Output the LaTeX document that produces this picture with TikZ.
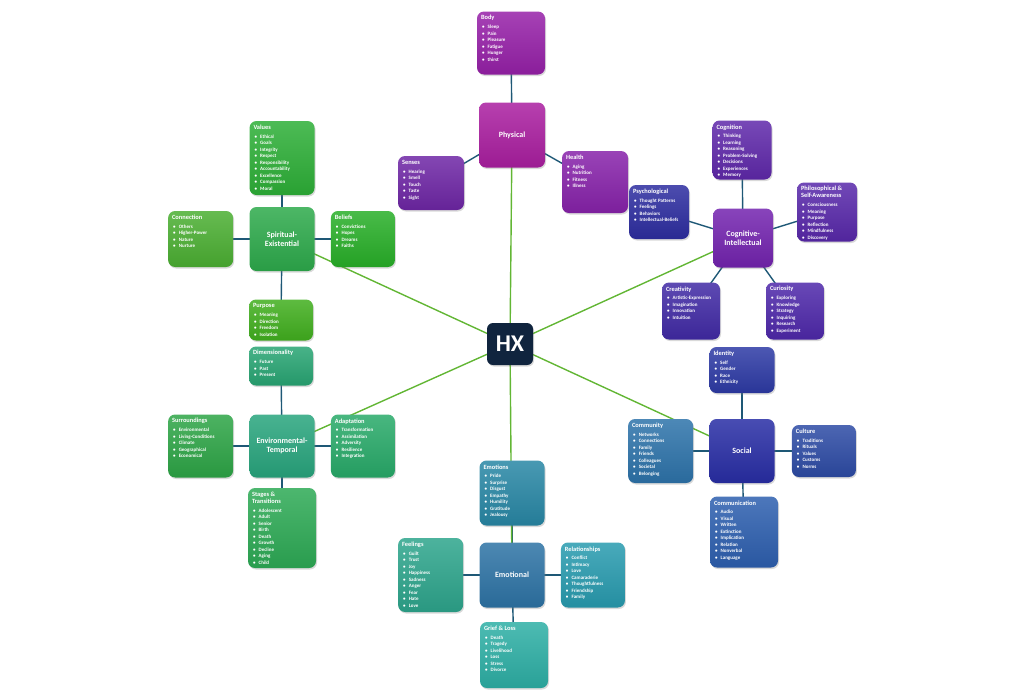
\documentclass[tikz,border=0pt]{standalone}
\usepackage{fontspec}
\setmainfont{Carlito}
\usepackage{tikz}
\usetikzlibrary{positioning, shadows, backgrounds}

% hub and link colours
\definecolor{hxcolor}{RGB}{16, 36, 62}
\definecolor{linkcolor}{RGB}{30, 88, 118}
\definecolor{spokecolor}{RGB}{98, 182, 52}
% physical
\definecolor{physcolor}{RGB}{170, 30, 160}
\definecolor{bodycolor}{RGB}{150, 32, 168}
\definecolor{sensecolor}{RGB}{110, 38, 165}
\definecolor{healthcolor}{RGB}{135, 34, 170}
% cognitive
\definecolor{cogcolor}{RGB}{115, 35, 175}
\definecolor{cognitcolor}{RGB}{95, 40, 170}
\definecolor{philocolor}{RGB}{88, 40, 170}
\definecolor{psychcolor}{RGB}{45, 45, 160}
\definecolor{creacolor}{RGB}{65, 42, 165}
\definecolor{curiocolor}{RGB}{78, 40, 170}
% social
\definecolor{socialcolor}{RGB}{40, 45, 165}
\definecolor{identcolor}{RGB}{45, 58, 165}
\definecolor{culturecolor}{RGB}{45, 75, 165}
\definecolor{commcolor}{RGB}{45, 115, 170}
\definecolor{talkcolor}{RGB}{45, 95, 175}
% emotional
\definecolor{emocolor}{RGB}{45, 115, 165}
\definecolor{emotioncolor}{RGB}{40, 135, 165}
\definecolor{feelcolor}{RGB}{45, 165, 140}
\definecolor{relcolor}{RGB}{40, 155, 175}
\definecolor{griefcolor}{RGB}{45, 175, 165}
% environmental
\definecolor{envcolor}{RGB}{40, 165, 125}
\definecolor{dimcolor}{RGB}{40, 165, 115}
\definecolor{surrcolor}{RGB}{45, 165, 70}
\definecolor{adaptcolor}{RGB}{40, 170, 105}
\definecolor{stagecolor}{RGB}{45, 170, 85}
% spiritual
\definecolor{spiritcolor}{RGB}{45, 170, 75}
\definecolor{valuecolor}{RGB}{45, 175, 55}
\definecolor{conncolor}{RGB}{75, 175, 50}
\definecolor{beliefcolor}{RGB}{40, 175, 40}
\definecolor{purposecolor}{RGB}{65, 175, 30}

\newcommand{\bul}{\hspace*{1pt}\textbullet\hspace{3.2pt}}
\newcommand{\card}[4]{\parbox[t][#2pt][t]{#1pt}{\raggedright{\fontsize{6.4}{6.6}\selectfont #3}\\[2.4pt]#4}}

\begin{document}
\begin{tikzpicture}[
    x=1pt, y=-1pt,
    card/.style={rounded corners=7pt, inner sep=4pt, text=white,
        font=\fontsize{5}{6.5}\selectfont\bfseries,
        top color=#1!85!white, bottom color=#1!92!black,
        drop shadow={opacity=0.3, shadow xshift=1pt, shadow yshift=-1.5pt}},
    hub/.style={card=#1, minimum width=65pt, minimum height=64pt, align=center,
        font=\fontsize{8}{9}\selectfont\bfseries},
    link/.style={draw=linkcolor, line width=1.4pt},
    spoke/.style={draw=spokecolor, line width=1.4pt}
]
\useasboundingbox (0,0) rectangle (1024,699);

% Center
\node[rounded corners=6pt, fill=hxcolor, text=white, minimum width=46pt, minimum height=42pt,
    font=\fontsize{24}{24}\selectfont\bfseries,
    drop shadow={opacity=0.3, shadow xshift=1pt, shadow yshift=-1.5pt}] (hx) at (510,344) {HX};

% Physical
\node[hub=physcolor, minimum width=66pt, minimum height=65pt] (physical) at (512,135) {Physical};
\node[card=bodycolor] (body) at (511,43) {\card{60}{55}{Body}{\bul Sleep\\ \bul Pain\\ \bul Pleasure\\ \bul Fatigue\\ \bul Hunger\\ \bul thirst}};
\node[card=sensecolor] (senses) at (431,183) {\card{58}{46}{Senses}{\bul Hearing\\ \bul Smell\\ \bul Touch\\ \bul Taste\\ \bul Sight}};
\node[card=healthcolor] (health) at (595,182) {\card{58}{54}{Health}{\bul Aging\\ \bul Nutrition\\ \bul Fitness\\ \bul Illness}};

% Cognitive-Intellectual
\node[hub=cogcolor, minimum width=60pt, minimum height=59pt] (cognitive) at (743,238) {Cognitive-\\Intellectual};
\node[card=cognitcolor] (cognition) at (742,150) {\card{51}{51}{Cognition}{\bul Thinking\\ \bul Learning\\ \bul Reasoning\\ \bul Problem-Solving\\ \bul Decisions\\ \bul Experiences\\ \bul Memory}};
\node[card=philocolor] (philo) at (827,212) {\card{52}{51}{Philosophical \&\\[0.5pt]Self-Awareness}{\bul Consciousness\\ \bul Meaning\\ \bul Purpose\\ \bul Reflection\\ \bul Mindfulness\\ \bul Discovery}};
\node[card=psychcolor] (psych) at (659,212) {\card{52}{46}{Psychological}{\bul Thought Patterns\\ \bul Feelings\\ \bul Behaviors\\ \bul Intellectual-Beliefs}};
\node[card=creacolor] (creativity) at (691,311) {\card{50}{49}{Creativity}{\bul Artistic-Expression\\ \bul Imagination\\ \bul Innovation\\ \bul Intuition}};
\node[card=curiocolor] (curiosity) at (795,311) {\card{50}{49}{Curiosity}{\bul Exploring\\ \bul Knowledge\\ \bul Strategy\\ \bul Inquiring\\ \bul Research\\ \bul Experiment}};

% Spiritual-Existential
\node[hub=spiritcolor] (spiritual) at (282,239) {Spiritual-\\Existential};
\node[card=valuecolor] (values) at (282,158) {\card{57}{66}{Values}{\bul Ethical\\ \bul Goals\\ \bul Integrity\\ \bul Respect\\ \bul Responsibility\\ \bul Accountability\\ \bul Excellence\\ \bul Compassion\\ \bul Moral}};
\node[card=conncolor, left=16pt of spiritual] (connection) {\card{57}{48}{Connection}{\bul Others\\ \bul Higher-Power\\ \bul Nature\\ \bul Nurture}};
\node[card=beliefcolor, right=16pt of spiritual] (beliefs) {\card{56}{48}{Beliefs}{\bul Convictions\\ \bul Hopes\\ \bul Dreams\\ \bul Faiths}};
\node[card=purposecolor] (purpose) at (281,320) {\card{56}{33}{Purpose}{\bul Meaning\\ \bul Direction\\ \bul Freedom\\ \bul Isolation}};

% Environmental-Temporal
\node[hub=envcolor, minimum height=63pt] (environmental) at (282,446) {Environmental-\\Temporal};
\node[card=dimcolor] (dimension) at (281,366) {\card{56}{31}{Dimensionality}{\bul Future\\ \bul Past\\ \bul Present}};
\node[card=surrcolor, left=16pt of environmental] (surroundings) {\card{57}{55}{Surroundings}{\bul Environmental\\ \bul Living-Conditions\\ \bul Climate\\ \bul Geographical\\ \bul Economical}};
\node[card=adaptcolor, right=16pt of environmental] (adaptation) {\card{56}{55}{Adaptation}{\bul Transformation\\ \bul Assimilation\\ \bul Adversity\\ \bul Resilience\\ \bul Integration}};
\node[card=stagecolor] (stages) at (282,528) {\card{60}{72}{Stages \&\\[0.5pt]Transitions}{\bul Adolescent\\ \bul Adult\\ \bul Senior\\ \bul Birth\\ \bul Death\\ \bul Growth\\ \bul Decline\\ \bul Aging\\ \bul Child}};

% Social
\node[hub=socialcolor] (social) at (742,451) {Social};
\node[card=identcolor] (identity) at (742,370) {\card{57}{38}{Identity}{\bul Self\\ \bul Gender\\ \bul Race\\ \bul Ethnicity}};
\node[card=commcolor, left=16pt of social] (community) {\card{57}{56}{Community}{\bul Networks\\ \bul Connections\\ \bul Family\\ \bul Friends\\ \bul Colleagues\\ \bul Societal\\ \bul Belonging}};
\node[card=culturecolor, right=17pt of social] (culture) {\card{56}{44}{Culture}{\bul Traditions\\ \bul Rituals\\ \bul Values\\ \bul Customs\\ \bul Norms}};
\node[card=talkcolor] (communication) at (744,532) {\card{60}{63}{Communication}{\bul Audio\\ \bul Visual\\ \bul Written\\ \bul Extinction\\ \bul Implication\\ \bul Relation\\ \bul Nonverbal\\ \bul Language}};

% Emotional
\node[hub=emocolor, minimum height=65pt] (emotional) at (512,575) {Emotional};
\node[card=emotioncolor] (emotions) at (512,493) {\card{57}{57}{Emotions}{\bul Pride\\ \bul Surprise\\ \bul Disgust\\ \bul Empathy\\ \bul Humility\\ \bul Gratitude\\ \bul Jealousy}};
\node[card=feelcolor, left=16pt of emotional] (feelings) {\card{57}{66}{Feelings}{\bul Guilt\\ \bul Trust\\ \bul Joy\\ \bul Happiness\\ \bul Sadness\\ \bul Anger\\ \bul Fear\\ \bul Hate\\ \bul Love}};
\node[card=relcolor, right=16pt of emotional] (relations) {\card{56}{57}{Relationships}{\bul Conflict\\ \bul Intimacy\\ \bul Love\\ \bul Camaraderie\\ \bul Thoughtfulness\\ \bul Friendship\\ \bul Family}};
\node[card=griefcolor] (grief) at (514,655) {\card{60}{58}{Grief \& Loss}{\bul Death\\ \bul Tragedy\\ \bul Livelihood\\ \bul Loss\\ \bul Stress\\ \bul Divorce}};

% Connectors
\begin{scope}[on background layer]
\foreach \a/\b in {physical/body, physical/senses, physical/health,
    cognitive/cognition, cognitive/philo, cognitive/psych, cognitive/creativity, cognitive/curiosity,
    spiritual/values, spiritual/connection, spiritual/beliefs, spiritual/purpose,
    environmental/dimension, environmental/surroundings, environmental/adaptation, environmental/stages,
    social/identity, social/community, social/culture, social/communication,
    emotional/emotions, emotional/feelings, emotional/relations, emotional/grief}
    \draw[link] (\a.center) -- (\b.center);
\foreach \b in {physical, cognitive, social, emotional, environmental, spiritual}
    \draw[spoke] (hx.center) -- (\b.center);
\end{scope}

\end{tikzpicture}
\end{document}
